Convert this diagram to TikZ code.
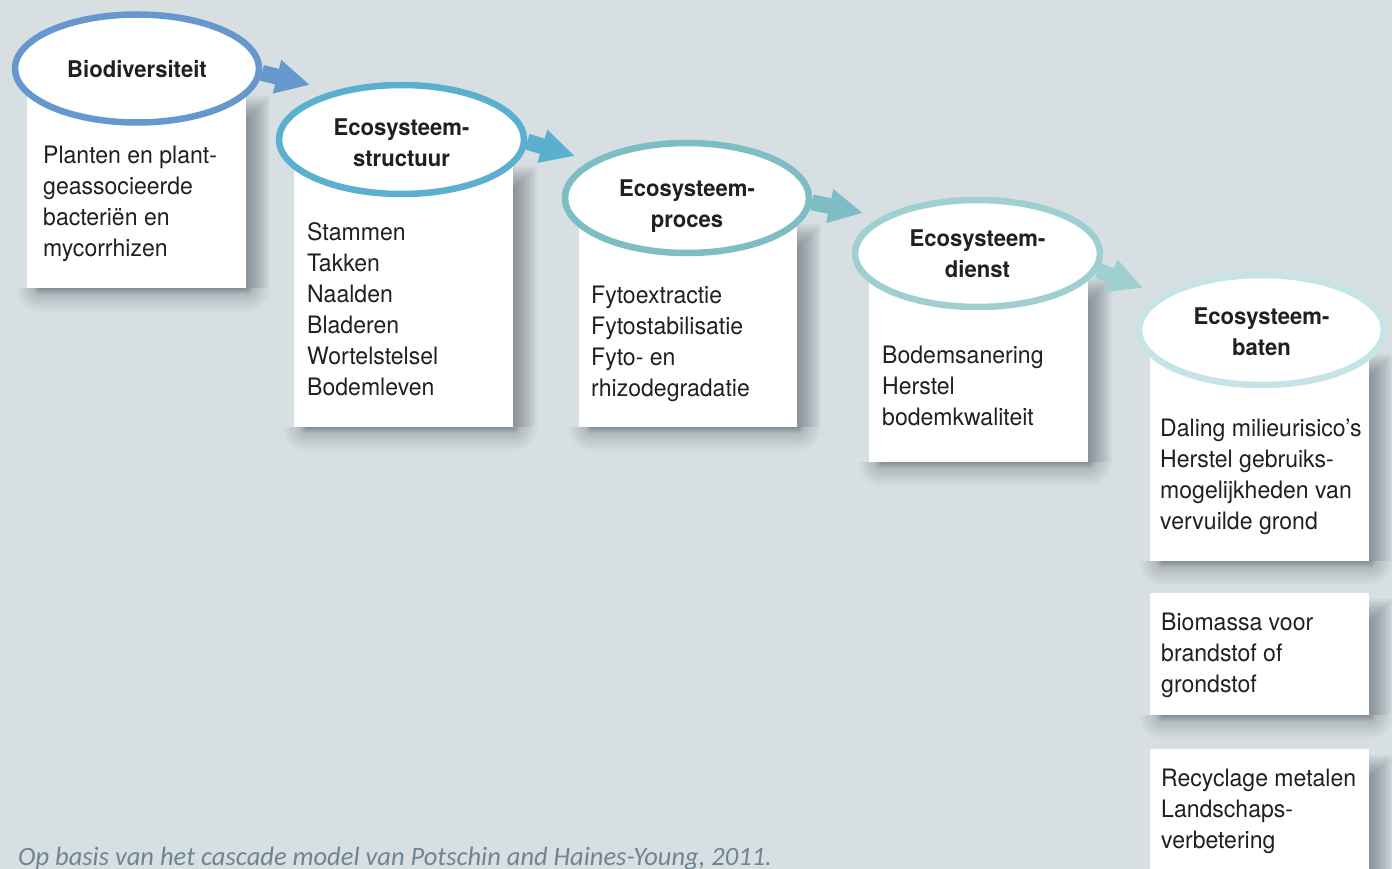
\documentclass[tikz,border=0pt]{standalone}
\usepackage{fontspec}
\setmainfont{TeX Gyre Heros}[FakeStretch=0.96]
\newfontfamily\capfont{Carlito}
\usetikzlibrary{shapes.geometric,arrows.meta,calc}

\pgfdeclarelayer{front}
\pgfsetlayers{main,front}

\definecolor{bg}{RGB}{216,223,227}
\definecolor{ink}{RGB}{35,31,32}
\definecolor{capgray}{RGB}{110,132,146}
\definecolor{tone1}{RGB}{103,152,205}
\definecolor{tone2}{RGB}{92,176,207}
\definecolor{tone3}{RGB}{124,190,195}
\definecolor{tone4}{RGB}{160,207,210}
\definecolor{tone5}{RGB}{198,227,229}
\definecolor{sh0}{RGB}{136,145,151}
\definecolor{sh1}{RGB}{178,186,191}
\definecolor{shadowink}{RGB}{40,50,58}

% rounded fall-off used at the lower corners of a card shadow
\pgfdeclareradialshading{shadeC}{\pgfpoint{0bp}{0bp}}{color(0bp)=(sh0);
  color(6.5bp)=(sh1); color(25bp)=(bg); color(50bp)=(bg)}

\newcommand\headfont{\fontsize{23}{31}\selectfont\bfseries}
\newcommand\bodyfont{\fontsize{24}{31}\selectfont}

% shadow cast by a card to its right and below it
\newcommand\cardshadow[1]{%
  % right side: stacked translucent bands, darkest along the edge
  \foreach \k in {1,...,12} {
    \fill[shadowink, opacity=0.042]
      ($(#1.north east)+(0,30-2*\k)$) rectangle ($(#1.south east)+(2*\k,0)$);
  }
  % underside and its corners
  \shade[top color=sh0, bottom color=sh1] ($(#1.south west)+(12,0)$) rectangle ($(#1.south east)+(0,6)$);
  \shade[top color=sh1, bottom color=bg] ($(#1.south west)+(12,6)$) rectangle ($(#1.south east)+(0,24)$);
  \begin{scope}
    \clip (#1.south east) rectangle ++(24,24);
    \shade[shading=shadeC] (#1.south east) ++(-24,-24) rectangle ++(48,48);
  \end{scope}
  \begin{scope}
    \clip ($(#1.south west)+(12,0)$) rectangle ++(-24,24);
    \shade[shading=shadeC] ($(#1.south west)+(-12,-24)$) rectangle ++(48,48);
  \end{scope}}

\tikzset{
  bubble/.style={ellipse, draw=#1, line width=6.5pt, fill=white,
    minimum width=244pt, minimum height=108pt, inner sep=0pt},
  heading/.style={inner sep=0pt, align=center, font=\headfont, text=ink},
  card/.style={rectangle, fill=white, anchor=north west, inner sep=0pt,
    minimum width=219pt},
  cardtext/.style={anchor=north west, inner sep=0pt, align=left,
    font=\bodyfont, text=ink},
  flow/.style={draw=#1, line width=16pt,
    -{Triangle[width=32pt,length=34pt]}}
}

\begin{document}
\begin{tikzpicture}[x=1pt,y=-1pt]
  % page and background
  \fill[bg] (0,0) rectangle (1392,869);
  \useasboundingbox (0,0) rectangle (1392,869);
  \clip (0,0) rectangle (1392,869);

  % white cards
  \node[card, minimum height=198pt] (b1) at (27,90) {};
  \node[card, minimum height=267pt] (b2) at (294,160) {};
  \node[card, minimum width=218pt, minimum height=209pt] (b3) at (579,218) {};
  \node[card, minimum height=190pt] (b4) at (869,272) {};
  \node[card, minimum height=213pt] (b5) at (1150,348) {};
  \node[card, minimum height=122pt] (b6) at (1150,593) {};
  \node[card, minimum height=160pt] (b7) at (1150,749) {};

  \foreach \c in {b1,b2,b3,b4,b5,b6,b7} {\cardshadow{\c}}

  % card texts
  \node[cardtext] (t1) at (43,146) {Planten en plant-\\geassocieerde\\bacteriën en\\mycorrhizen};
  \node[cardtext] (t2) at (307,222) {Stammen\\Takken\\Naalden\\Bladeren\\Wortelstelsel\\Bodemleven};
  \node[cardtext] (t3) at (591,286) {Fytoextractie\\Fytostabilisatie\\Fyto- en\\rhizodegradatie};
  \node[cardtext] (t4) at (882,346) {Bodemsanering\\Herstel\\bodemkwaliteit};
  \node[cardtext] (t5) at (1160,419) {Daling milieurisico’s\\Herstel gebruiks-\\mogelijkheden van\\vervuilde grond};
  \node[cardtext] (t6) at (1161,613) {Biomassa voor\\brandstof of\\grondstof};
  \node[cardtext] (t7) at (1161,769) {Recyclage metalen\\Landschaps-\\verbetering};

  % stage ellipses with their headings, kept in front of the arrows
  \begin{pgfonlayer}{front}
    \node[bubble=tone1] (e1) at (137,68.5) {};
    \node[bubble=tone2, minimum width=245pt, minimum height=109pt] (e2) at (401.5,139.5) {};
    \node[bubble=tone3, minimum height=110pt] (e3) at (687,198) {};
    \node[bubble=tone4, minimum width=245pt, minimum height=107pt] (e4) at (977.5,253.5) {};
    \node[bubble=tone5, minimum width=245pt, minimum height=110pt] (e5) at (1261.5,330) {};

    \node[heading, yshift=-1pt] (h1) at (e1) {Biodiversiteit};
    \node[heading, yshift=-3pt] (h2) at (e2) {Ecosysteem-\\structuur};
    \node[heading, yshift=-8pt] (h3) at (e3) {Ecosysteem-\\proces};
    \node[heading, yshift=-0.5pt] (h4) at (e4) {Ecosysteem-\\dienst};
    \node[heading, yshift=-1.5pt] (h5) at (e5) {Ecosysteem-\\baten};
  \end{pgfonlayer}

  % arrow tips between the stages
  \coordinate (p1) at (310,85);
  \coordinate (p2) at (575,156);
  \coordinate (p3) at (863,213);
  \coordinate (p4) at (1143,288);

  % block arrows leaving each ellipse
  \draw[flow=tone1] (e1.-2) -- (p1);
  \draw[flow=tone2] (e2.-1) -- (p2);
  \draw[flow=tone3] (e3.-2) -- (p3);
  \draw[flow=tone4] (e4.-8) -- (p4);

  % source line
  \node[anchor=base west, inner sep=0pt, text=capgray,
        font=\capfont\itshape\fontsize{26.5}{30}\selectfont] (src) at (18,865)
        {Op basis van het cascade model van Potschin and Haines-Young, 2011.};
\end{tikzpicture}
\end{document}
